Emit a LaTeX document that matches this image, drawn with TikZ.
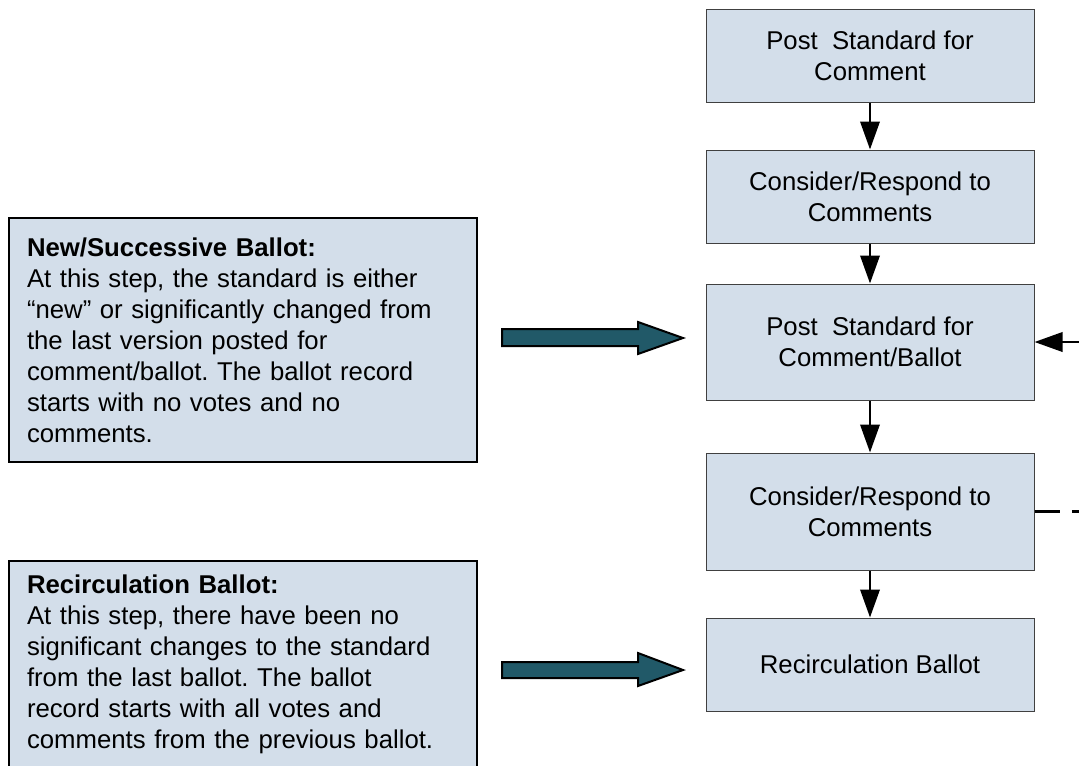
\documentclass[tikz,border=0pt]{standalone}
\usepackage{fontspec}
\setmainfont{Liberation Sans}
\usepackage{tikz}
\usetikzlibrary{arrows.meta}
\definecolor{boxfill}{RGB}{211,222,234}
\definecolor{arrowteal}{RGB}{33,89,104}
\newcommand{\boxfont}{\fontsize{19.3}{23.25}\selectfont}
\frenchspacing

\begin{document}
\begin{tikzpicture}[x=0.75pt,y=-0.75pt,
    stepbox/.style={draw=black!75, fill=boxfill, line width=0.75pt, minimum width=246pt, align=center, font=\boxfont},
    notebox/.style={draw=black, fill=boxfill, line width=1.5pt, text width=324pt, inner xsep=13.5pt, align=left, font=\boxfont},
    flow/.style={-{Triangle[length=21pt,width=14.5pt]}, black, line width=1.9pt},
    blockarrow/.style={draw=black, line width=1.5pt, fill=arrowteal, line join=miter}]
    \useasboundingbox (0,0) rectangle (1079,765);
    \clip (0,0) rectangle (1079,765);

    % flow column
    \node[stepbox, minimum height=69.75pt] (post) at (870,55.5) {Post~~Standard for\\Comment};
    \node[stepbox, minimum height=69.75pt] (consider) at (870,196.5) {Consider/Respond to\\Comments};
    \node[stepbox, minimum height=87pt] (postballot) at (870,342) {Post~~Standard for\\Comment/Ballot};
    \node[stepbox, minimum height=87.75pt] (considerballot) at (870,511.5) {Consider/Respond to\\Comments};
    \node[stepbox, minimum height=69.75pt] (recirc) at (870,664.5) {Recirculation Ballot};

    \draw [flow] (post) -- (consider);
    \draw [flow] (consider) -- (postballot);
    \draw [flow] (postballot) -- (considerballot);
    \draw [flow] (considerballot) -- (recirc);

    % loop at the right edge
    \coordinate (loopin) at (1095,342);
    \coordinate (loopout) at (1095,511.5);
    \draw [flow] (loopin) -- (postballot.east);
    \draw [black, line width=2pt, dash pattern=on 19pt off 9pt] (considerballot.east) -- (loopout);

    % notes
    \node[notebox, minimum height=183pt] (newnote) at (243,340) {\textbf{New/Successive Ballot:}\\At this step, the standard is either\\“new” or significantly changed from\\the last version posted for\\comment/ballot. The ballot record\\starts with no votes and no\\comments.};
    \node[notebox, minimum height=154.5pt] (recircnote) at (243,664) {\textbf{Recirculation Ballot:}\\At this step, there have been no\\significant changes to the standard\\from the last ballot. The ballot\\record starts with all votes and\\comments from the previous ballot.};

    \draw [blockarrow] (502,329) -- ++(136,0) -- ++(0,-7) -- ++(45,16) -- ++(-45,16) -- ++(0,-8) -- ++(-136,0) -- cycle;
    \draw [blockarrow] (502,662) -- ++(136,0) -- ++(0,-9) -- ++(45,17) -- ++(-45,16) -- ++(0,-8) -- ++(-136,0) -- cycle;
\end{tikzpicture}
\end{document}
